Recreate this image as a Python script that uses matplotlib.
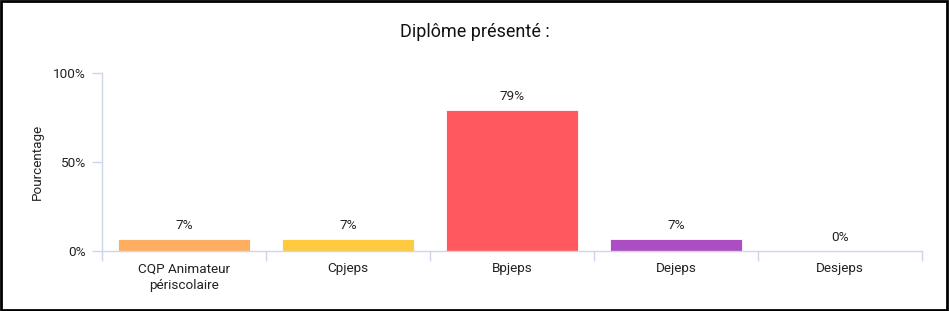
import matplotlib.pyplot as plt
from matplotlib.patches import Rectangle
from matplotlib.ticker import FixedLocator

plt.rcParams['font.family'] = ['Roboto', 'DejaVu Sans']

categories = ['CQP Animateur\npériscolaire', 'Cpjeps', 'Bpjeps', 'Dejeps', 'Desjeps']
values = [7, 7, 79, 7, 0]
colors = ['#ffad60', '#ffca40', '#ff585e', '#ab4ec4', '#4fb3f0']

axis_color = '#ccd6eb'
text_color = '#222222'

fig = plt.figure(figsize=(9.49, 3.11), dpi=100)
ax = fig.add_axes([102 / 949, 60 / 311, 820 / 949, 178 / 311])

x = list(range(len(categories)))
bars = ax.bar(x, values, width=0.8, color=colors, edgecolor='white', linewidth=0.6)

for xi, v in zip(x, values):
    ax.annotate(f'{v}%', (xi, v), xytext=(0, 5), textcoords='offset points',
                ha='center', va='bottom', fontsize=9.7, color=text_color)

ax.set_xlim(-0.5, len(categories) - 0.5)
ax.set_ylim(0, 100)
ax.set_yticks([0, 50, 100])
ax.set_yticklabels(['0%', '50%', '100%'])
ax.set_xticks(x)
ax.set_xticklabels(categories, linespacing=1.4)
ax.xaxis.set_minor_locator(FixedLocator([i - 0.5 for i in range(len(categories) + 1)]))

ax.tick_params(axis='x', which='major', length=0, pad=8, labelsize=9.7, labelcolor=text_color)
ax.tick_params(axis='x', which='minor', length=7.5, width=1, color=axis_color)
ax.tick_params(axis='y', length=7.5, width=1, color=axis_color, pad=4,
               labelsize=9.7, labelcolor=text_color)

for sp in ['top', 'right']:
    ax.spines[sp].set_visible(False)
for sp in ['left', 'bottom']:
    ax.spines[sp].set_color(axis_color)
    ax.spines[sp].set_linewidth(1)

ax.set_ylabel('Pourcentage', fontsize=9.7, color=text_color, labelpad=7)

fig.text(0.5, 1 - 32 / 311, 'Diplôme présenté :', ha='center', va='center',
         fontsize=13, color='#111111')

fig.add_artist(Rectangle((0.001, 0.003), 0.997, 0.994, transform=fig.transFigure,
                         fill=False, edgecolor='black', linewidth=2))

fig.savefig('out.png', dpi=100)
